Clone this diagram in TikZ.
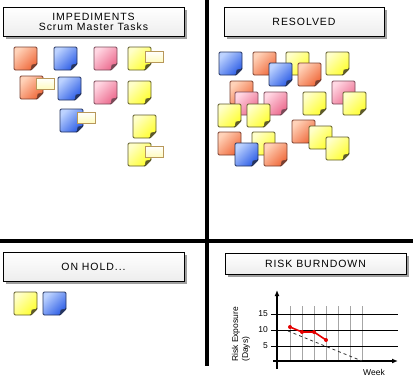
\documentclass[tikz,border=0pt]{standalone}
\usepackage{fontspec}
\usepackage{tikz}
\usepackage{xcolor}
\usetikzlibrary{shadows,arrows.meta}
\setmainfont{Liberation Sans}
\newfontfamily\boardfont[LetterSpace=9]{Liberation Sans}

% note colours: L = light corner, D = dark corner, B = border
\definecolor{noteorangeL}{HTML}{FFD2B8}
\definecolor{noteorangeD}{HTML}{F06A3C}
\definecolor{noteorangeB}{HTML}{7A4030}
\definecolor{noteblueL}{HTML}{BCD2FF}
\definecolor{noteblueD}{HTML}{2F5FE6}
\definecolor{noteblueB}{HTML}{263560}
\definecolor{notepinkL}{HTML}{FFD6E2}
\definecolor{notepinkD}{HTML}{EC6A8E}
\definecolor{notepinkB}{HTML}{7A4A58}
\definecolor{noteyellowL}{HTML}{FFFFC8}
\definecolor{noteyellowD}{HTML}{FFFF30}
\definecolor{noteyellowB}{HTML}{5E5A2A}
\definecolor{tagfill}{HTML}{FFFBC0}
\definecolor{tagdraw}{HTML}{B8985A}

% sticky note, top left corner at (#1,#2)
\newcommand{\sticky}[3]{%
  \begin{scope}[shift={(#1,#2)}]
    \shade[top color=note#3L, bottom color=note#3D, shading angle=45,
      draw=note#3B, line width=0.9pt, rounded corners=1.2pt]
      (0,0) -- (23,0) -- (23,17) -- (17,23) -- (0,23) -- cycle;
    \filldraw[fill=note#3B, draw=note#3B, line width=0.5pt]
      (23,17) -- (18,18) -- (17,23) -- cycle;
  \end{scope}}

% little tag stuck on a note
\newcommand{\tag}[2]{%
  \shade[top color=white, bottom color=tagfill, draw=tagdraw, line width=0.6pt]
    (#1,#2) rectangle +(18,11);}

\tikzset{
  titlebox/.style={draw=black, line width=0.8pt, top color=white,
    bottom color=gray!14, inner sep=0pt, align=center,
    drop shadow={shadow xshift=3pt, shadow yshift=-3pt, fill=gray!75, opacity=1},
    font=\boardfont\fontsize{10.5}{12}\selectfont},
  divider/.style={line width=3.4pt, black},
  axisline/.style={line width=1.3pt, -{Latex[length=6pt,width=5pt]}},
  gridline/.style={gray!70, line width=0.8pt},
  levelline/.style={black, line width=0.9pt},
  riskline/.style={red!90!black, line width=1.6pt},
  trendline/.style={gray!40!black, dashed, line width=0.8pt},
  ticklabel/.style={font=\fontsize{8.5}{9}\selectfont, anchor=east, inner sep=1pt},
}

\begin{document}
\begin{tikzpicture}[x=1pt, y=-1pt]
    \useasboundingbox (0,0) rectangle (413,381);

    % Board dividers
    \draw [divider] (207,0) -- (207,366);
    \draw [divider] (0,241) -- (413,241);

    % Column titles
    \node [titlebox, minimum width=181pt, minimum height=29pt]
        (impediments) at (93.5,21.5) {IMPEDIMENTS\\[-2pt]Scrum Master Tasks};
    \node [titlebox, minimum width=160pt, minimum height=29pt]
        (resolved) at (304,21.5) {RESOLVED};
    \node [titlebox, minimum width=181pt, minimum height=29pt]
        (onhold) at (93.5,266.5) {ON HOLD...};
    \node [titlebox, minimum width=181pt, minimum height=21pt]
        (burndown) at (315.5,263.5) {RISK BURNDOWN};

    % Impediments
    \sticky{14}{47}{orange}
    \sticky{54}{47}{blue}
    \sticky{94}{47}{pink}
    \sticky{128}{47}{yellow}
    \tag{145}{51}

    \sticky{20}{76}{orange}
    \tag{36}{78}
    \sticky{58}{77}{blue}
    \sticky{94}{81}{pink}
    \sticky{128}{81}{yellow}

    \sticky{60}{109}{blue}
    \tag{77}{112}
    \sticky{133}{115}{yellow}

    \sticky{128}{143}{yellow}
    \tag{145}{146}

    % Resolved
    \sticky{219}{52}{blue}
    \sticky{253}{52}{orange}
    \sticky{286}{52}{yellow}
    \sticky{269}{63}{blue}
    \sticky{298}{63}{orange}
    \sticky{326}{52}{yellow}

    \sticky{230}{81}{orange}
    \sticky{235}{92}{pink}
    \sticky{264}{92}{pink}
    \sticky{218}{104}{yellow}
    \sticky{247}{104}{yellow}
    \sticky{303}{92}{yellow}
    \sticky{332}{81}{pink}
    \sticky{343}{92}{yellow}

    \sticky{218}{132}{orange}
    \sticky{252}{132}{yellow}
    \sticky{235}{143}{blue}
    \sticky{264}{143}{orange}
    \sticky{292}{120}{orange}
    \sticky{309}{126}{yellow}
    \sticky{326}{137}{yellow}

    % On hold
    \sticky{14}{292}{yellow}
    \sticky{43}{292}{blue}

    % Burndown chart
    \coordinate (origin) at (277,361);
    \coordinate (ytop) at (277,290);
    \coordinate (xend) at (398,361);
    \coordinate (ybottom) at (277,369);
    \coordinate (xstart) at (273,361);

    \foreach \i in {0,...,6}
        \draw [gridline] (290.5+11.9*\i,306) -- (290.5+11.9*\i,361);

    \foreach \v/\y in {15/314, 10/330, 5/346} {
        \draw [levelline] (271,\y) -- (398,\y);
        \node [ticklabel] (tick\v) at (269,\y) {\v};
    }

    \draw [axisline] (ybottom) -- (ytop);
    \draw [axisline] (xstart) -- (xend);

    \coordinate (t0) at (288,331);
    \coordinate (t1) at (362,361);
    \draw [trendline] (t0) -- (t1);

    \coordinate (r0) at (290,327);
    \coordinate (r1) at (302,332);
    \coordinate (r2) at (314,332);
    \coordinate (r3) at (326,340);
    \draw [riskline] (r0) -- (r1) -- (r2) -- (r3);
    \foreach \p in {r0,r1,r2,r3}
        \fill [red!90!black] (\p) circle [radius=2];

    \node [rotate=90, anchor=west, inner sep=0pt, font=\fontsize{8.5}{9}\selectfont]
        (exposure) at (236,362) {Risk Exposure};
    \node [rotate=90, anchor=west, inner sep=0pt, font=\fontsize{8.5}{9}\selectfont]
        (days) at (246,362) {(Days)};
    \node [font=\fontsize{8.5}{9}\selectfont, inner sep=0pt]
        (week) at (374,372) {Week};
\end{tikzpicture}
\end{document}
